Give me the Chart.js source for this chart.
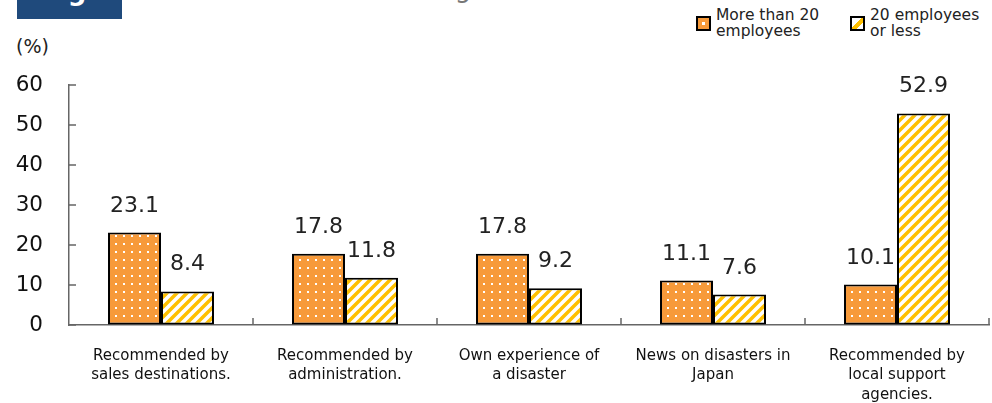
<!DOCTYPE html>
<html lang="en">
<head>
<meta charset="UTF-8">
<title>Fig.2</title>
<script src="https://cdn.jsdelivr.net/npm/chart.js"></script>
<style>
    body {
        margin: 0;
        width: 992px;
        height: 403px;
        overflow: hidden;
        background: #fff;
        position: relative;
        font-family: "DejaVu Sans", Verdana, sans-serif;
    }
    .fig {
        position: absolute; left: 17px; top: 0; width: 105px; height: 19px;
        background: #1f4a7c; overflow: hidden;
    }
    .fig span {
        position: absolute; left: 24px; top: -24px;
        color: #fff; font-size: 26px; font-weight: bold;
    }
    .title {
        position: absolute; left: 160px; top: -27px;
        color: #777; font-size: 26px; white-space: nowrap;
    }
    .unit {
        position: absolute; left: 16px; top: 35px; font-size: 19px; color: #222;
    }
    .legend {
        position: absolute; top: 7px; font-size: 15.5px; line-height: 16px; color: #222;
    }
    .legend .box {
        position: absolute; top: 9px; width: 11px; height: 11px;
        border: 2px solid #000;
    }
    .legend .txt { position: absolute; left: 20px; top: 0; white-space: nowrap; }
    .b1 { background: radial-gradient(circle, #fff 0 1.5px, #f79a3a 2px); }
    .b2 { background: linear-gradient(135deg, #fff 0 45%, #ffc000 45% 70%, #fff 70%); }
    #wrap { position: absolute; left: 0; top: 0; width: 992px; height: 403px; }
</style>
</head>
<body>
    <div class="fig"><span>Fig.2</span></div>
    <div class="title">Reasons for formulating a BCP</div>
    <div class="unit">(%)</div>
    <div class="legend" style="left:696px"><div class="box b1"></div><div class="txt">More than 20<br>employees</div></div>
    <div class="legend" style="left:850px"><div class="box b2"></div><div class="txt">20 employees<br>or less</div></div>
    <div id="wrap"><canvas id="chart" width="992" height="403"></canvas></div>

<script>
    const categories = [
        ["Recommended by", "sales destinations."],
        ["Recommended by", "administration."],
        ["Own experience of", "a disaster"],
        ["News on disasters in", "Japan"],
        ["Recommended by", "local support", "agencies."]
    ];
    const seriesNames = ["More than 20 employees", "20 employees or less"];
    const moreThan20 = [23.1, 17.8, 17.8, 11.1, 10.1];
    const lessThan20 = [8.4, 11.8, 9.2, 7.6, 52.9];
    const yTicks = [0, 10, 20, 30, 40, 50, 60];

    // orange with white dots
    function dotPattern() {
        const c = document.createElement('canvas');
        c.width = 8; c.height = 8;
        const g = c.getContext('2d');
        g.fillStyle = '#f79a3a';
        g.fillRect(0, 0, 8, 8);
        g.fillStyle = '#fff';
        g.fillRect(3, 3, 2, 2);
        return g.createPattern(c, 'repeat');
    }

    // white with yellow diagonal stripes
    function stripePattern() {
        const c = document.createElement('canvas');
        c.width = 10; c.height = 10;
        const g = c.getContext('2d');
        g.fillStyle = '#fff';
        g.fillRect(0, 0, 10, 10);
        g.strokeStyle = '#ffc000';
        g.lineWidth = 3.5;
        g.beginPath();
        g.moveTo(-2, 12); g.lineTo(12, -2);
        g.moveTo(-7, 7); g.lineTo(7, -7);
        g.moveTo(3, 17); g.lineTo(17, 3);
        g.stroke();
        return g.createPattern(c, 'repeat');
    }

    // value labels above bars
    const valueLabels = {
        id: 'valueLabels',
        afterDatasetsDraw(chart) {
            const ctx = chart.ctx;
            ctx.save();
            ctx.font = '22px "DejaVu Sans", Verdana, sans-serif';
            ctx.fillStyle = '#222';
            ctx.textAlign = 'center';
            ctx.textBaseline = 'alphabetic';
            chart.data.datasets.forEach((ds, i) => {
                chart.getDatasetMeta(i).data.forEach((bar, j) => {
                    ctx.fillText(ds.data[j].toFixed(1), bar.x, bar.y - 21);
                });
            });
            ctx.restore();
        }
    };

    // small inward tick marks like the original
    const innerTicks = {
        id: 'innerTicks',
        afterDraw(chart) {
            const ctx = chart.ctx;
            const x = chart.scales.x, y = chart.scales.y;
            const a = chart.chartArea;
            ctx.save();
            ctx.strokeStyle = '#666';
            ctx.lineWidth = 1.5;
            ctx.beginPath();
            yTicks.forEach(v => {
                const py = y.getPixelForValue(v);
                ctx.moveTo(a.left, py); ctx.lineTo(a.left + 7, py);
            });
            for (let i = 0; i < categories.length; i++) {
                const px = i < categories.length - 1
                    ? (x.getPixelForValue(i) + x.getPixelForValue(i + 1)) / 2
                    : a.right;
                ctx.moveTo(px, a.bottom); ctx.lineTo(px, a.bottom - 7);
            }
            ctx.stroke();
            ctx.restore();
        }
    };

    const ctx = document.getElementById('chart').getContext('2d');
    new Chart(ctx, {
        type: 'bar',
        data: {
            labels: categories,
            datasets: [
                { label: seriesNames[0], data: moreThan20, backgroundColor: dotPattern() },
                { label: seriesNames[1], data: lessThan20, backgroundColor: stripePattern() }
            ]
        },
        options: {
            responsive: false,
            animation: false,
            events: [],
            layout: { padding: { top: 85, right: 3, left: 0, bottom: 0 } },
            datasets: {
                bar: {
                    borderColor: '#000',
                    borderWidth: 2,
                    borderSkipped: false,
                    barPercentage: 1,
                    categoryPercentage: 0.576
                }
            },
            plugins: {
                legend: { display: false },
                tooltip: { enabled: false }
            },
            scales: {
                x: {
                    afterFit(s) { s.height = 78; },
                    grid: { display: true, drawOnChartArea: false, drawTicks: false },
                    border: { display: true, color: '#666', width: 1.5 },
                    ticks: {
                        padding: 22,
                        color: '#111',
                        maxRotation: 0,
                        autoSkip: false,
                        font: { family: '"DejaVu Sans", Verdana, sans-serif', size: 15, lineHeight: 1.27 }
                    }
                },
                y: {
                    min: 0,
                    max: 60,
                    afterFit(s) { s.width = 69; },
                    afterBuildTicks(s) { s.ticks = yTicks.map(v => ({ value: v })); },
                    grid: { display: true, drawOnChartArea: false, drawTicks: false },
                    border: { display: true, color: '#666', width: 1.5 },
                    ticks: {
                        padding: 26,
                        color: '#111',
                        font: { family: '"DejaVu Sans", Verdana, sans-serif', size: 21.5 }
                    }
                }
            }
        },
        plugins: [valueLabels, innerTicks]
    });
</script>
</body>
</html>
